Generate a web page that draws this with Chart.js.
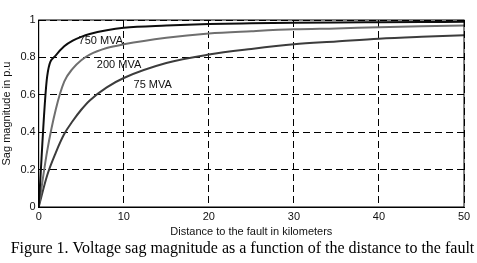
<!DOCTYPE html>
<html>
<head>
<meta charset="utf-8">
<script src="https://cdn.jsdelivr.net/npm/chart.js@4"></script>
<style>
  html, body { margin: 0; padding: 0; background: #fff; }
  #wrap { width: 477px; height: 263px; position: relative; }
</style>
</head>
<body>
<div id="wrap"><canvas id="sagChart" width="477" height="263"></canvas></div>
<script>
// distance to the fault (km)
const distKm = [0, 1, 2, 3, 4, 5, 6, 8, 10, 15, 20, 25, 30, 35, 40, 45, 50];

// sag magnitude (p.u) for each fault level
const sag750 = [0, 0.70, 0.81, 0.86, 0.89, 0.91, 0.925, 0.945, 0.958, 0.970, 0.978, 0.982, 0.985, 0.987, 0.988, 0.989, 0.990];
const sag200 = [0, 0.30, 0.52, 0.67, 0.74, 0.785, 0.815, 0.850, 0.870, 0.905, 0.928, 0.940, 0.950, 0.955, 0.961, 0.966, 0.970];
const sag75  = [0, 0.17, 0.29, 0.39, 0.46, 0.52, 0.57, 0.64, 0.69, 0.77, 0.815, 0.845, 0.870, 0.885, 0.900, 0.910, 0.918];

const seriesNames = ['750 MVA', '200 MVA', '75 MVA'];

// where the curve labels sit (in data units)
const labelKm  = [7.3, 9.45, 13.4];
const labelSag = [0.888, 0.757, 0.65];

const xTicks = [0, 10, 20, 30, 40, 50];
const yTicks = [0, 0.2, 0.4, 0.6, 0.8, 1];

const caption = 'Figure 1. Voltage sag magnitude as a function of the distance to the fault';

const toPoints = ys => distKm.map((x, i) => ({ x: x, y: ys[i] }));

// solid frame, curve labels and the figure caption
const extrasPlugin = {
    id: 'extras',
    afterDatasetsDraw(chart) {
        const { ctx, chartArea, scales } = chart;
        ctx.save();
        ctx.strokeStyle = '#000';
        ctx.lineWidth = 1;
        ctx.setLineDash([]);
        ctx.strokeRect(chartArea.left, chartArea.top, chartArea.right - chartArea.left, chartArea.bottom - chartArea.top);

        ctx.fillStyle = '#111';
        ctx.font = "11px 'Liberation Sans', Arial, sans-serif";
        ctx.textAlign = 'center';
        ctx.textBaseline = 'middle';
        seriesNames.forEach((name, i) => {
            ctx.fillText(name, scales.x.getPixelForValue(labelKm[i]), scales.y.getPixelForValue(labelSag[i]));
        });

        ctx.fillStyle = '#000';
        ctx.font = "16px 'Liberation Serif', 'Times New Roman', serif";
        ctx.fillText(caption, 242.5, 249);
        ctx.restore();
    }
};

const gridDash = [7, 4];
const tickFont = { family: "'Liberation Sans', Arial, sans-serif", size: 11 };

const ctx = document.getElementById('sagChart').getContext('2d');
const sagChart = new Chart(ctx, {
    type: 'line',
    data: {
        datasets: [
            { label: seriesNames[0], data: toPoints(sag750), borderColor: '#0d0d0d', borderWidth: 2 },
            { label: seriesNames[1], data: toPoints(sag200), borderColor: '#6f6f6f', borderWidth: 2 },
            { label: seriesNames[2], data: toPoints(sag75),  borderColor: '#3c3c3c', borderWidth: 2 }
        ]
    },
    options: {
        responsive: false,
        animation: false,
        devicePixelRatio: 1,
        elements: {
            point: { radius: 0 },
            line: { cubicInterpolationMode: 'monotone', fill: false }
        },
        layout: { padding: { left: 0, top: 20, right: 13, bottom: 24 } },
        plugins: {
            legend: { display: false },
            tooltip: { enabled: false }
        },
        scales: {
            x: {
                type: 'linear',
                min: 0, max: 50,
                afterBuildTicks: s => { s.ticks = xTicks.map(v => ({ value: v })); },
                afterFit: s => { s.height = 32; },
                grid: { color: '#000', drawTicks: false, lineWidth: 1 },
                border: { display: true, color: '#000', dash: gridDash },
                ticks: { color: '#111', padding: 3, maxRotation: 0, font: tickFont },
                title: {
                    display: true,
                    text: 'Distance to the fault in kilometers',
                    color: '#111',
                    padding: { top: 0, bottom: 0 },
                    font: tickFont
                }
            },
            y: {
                type: 'linear',
                min: 0, max: 1,
                afterBuildTicks: s => { s.ticks = yTicks.map(v => ({ value: v })); },
                afterFit: s => { s.width = 38.7; },
                grid: { color: '#000', drawTicks: false, lineWidth: 1 },
                border: { display: true, color: '#000', dash: gridDash },
                ticks: {
                    color: '#111', padding: 3, font: tickFont,
                    callback: v => String(+v.toFixed(1))
                },
                title: {
                    display: true,
                    text: 'Sag magnitude in p.u',
                    color: '#111',
                    padding: { top: 0, bottom: 0 },
                    font: tickFont
                }
            }
        }
    },
    plugins: [extrasPlugin]
});
</script>
</body>
</html>
